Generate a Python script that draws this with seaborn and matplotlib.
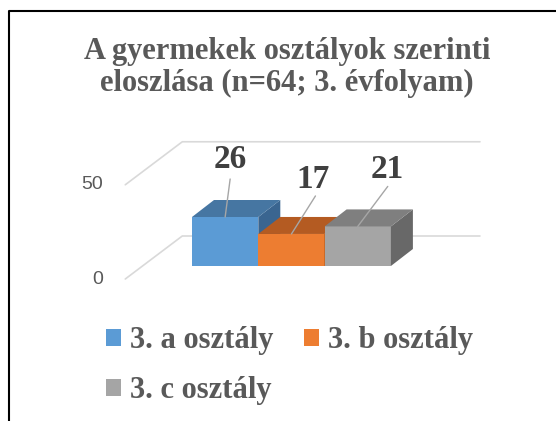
import matplotlib
matplotlib.use('Agg')
import numpy as np
import matplotlib.pyplot as plt
import seaborn as sns
from matplotlib.patches import Polygon, Patch
from matplotlib.lines import Line2D

# data
classes = ['3. a osztály', '3. b osztály', '3. c osztály']
counts = [26, 17, 21]
y_ticks = [0, 50]
title = 'A gyermekek osztályok szerinti\neloszlása (n=64; 3. évfolyam)'

front_colors = ['#5B9BD5', '#ED7D31', '#A5A5A5']
top_colors = ['#4676A2', '#B45B22', '#7F7F7F']
side_colors = ['#3A6590', '#9A4E1C', '#686868']
text_color = '#595959'

W, H = 556, 421
sns.set_theme(style='white')
plt.rcParams['font.family'] = ['Liberation Serif', 'DejaVu Serif']

fig = plt.figure(figsize=(W / 100, H / 100), dpi=100)
ax = fig.add_axes([0, 0, 1, 1])
sns.barplot(x=classes, y=counts, hue=classes, palette=front_colors, width=1.0,
            saturation=1, errorbar=None, legend=False, linewidth=0, ax=ax)

# scale: one category = 66.3 px, one unit = 1.885 px, value 0 at 155 px from bottom
px_x, px_y = 66.3, 49 / 26
ax.set_xlim(-0.5 - 192 / px_x, -0.5 + (W - 192) / px_x)
ax.set_ylim(-155 / px_y, (H - 155) / px_y)
ax.axis('off')


def shifted(x, y, dx, dy):
    p = ax.transData.transform((x, y)) + np.array([dx, dy])
    return ax.transData.inverted().transform(p)


back = (22, 17)      # depth of the boxes in pixels
wall = (40, 30)      # back wall
floor = (-17, -13)   # front edge of the floor
x_left, x_right = -1.25, 3.24

# gridlines on side wall and back wall
for v in y_ticks:
    pts = [shifted(x_left, v, *floor), shifted(x_left, v, *wall), shifted(x_right, v, *wall)]
    ax.add_line(Line2D([p[0] for p in pts], [p[1] for p in pts], color='#D9D9D9', lw=1.2, zorder=1))
    lx, ly = shifted(x_left, v, floor[0] - 22, floor[1])
    ax.text(lx, ly, str(v), ha='right', va='center', fontsize=14, color=text_color,
            family=['Liberation Sans', 'DejaVu Sans'])

# 3d faces
for i, bar in enumerate(ax.patches):
    x0, w, h = bar.get_x(), bar.get_width(), bar.get_height()
    bar.set_zorder(3 + i)
    top = [(x0, h), (x0 + w, h), shifted(x0 + w, h, *back), shifted(x0, h, *back)]
    side = [(x0 + w, 0), (x0 + w, h), shifted(x0 + w, h, *back), shifted(x0 + w, 0, *back)]
    ax.add_patch(Polygon(side, closed=True, facecolor=side_colors[i], edgecolor='none', zorder=3 + i))
    ax.add_patch(Polygon(top, closed=True, facecolor=top_colors[i], edgecolor='none', zorder=3 + i))

# data labels with leader lines
label_offsets = [(5, 57), (22, 54), (30, 57)]
line_offsets = [(5, 38), (24, 38), (30, 40)]
for i, bar in enumerate(ax.patches[:len(counts)]):
    cx = bar.get_x() + bar.get_width() / 2
    h = bar.get_height()
    tx, ty = shifted(cx, h, *label_offsets[i])
    lx, ly = shifted(cx, h, *line_offsets[i])
    ax.add_line(Line2D([cx, lx], [h, ly], color='#A6A6A6', lw=1.0, zorder=10))
    ax.text(tx, ty, str(counts[i]), ha='center', va='center', fontsize=24,
            fontweight='bold', color='#404040', zorder=11)

fig.text(287 / W, 1 - 37 / H, title, ha='center', va='top', fontsize=22,
         fontweight='bold', color=text_color, linespacing=1.12)

# legend filled row by row: a, b in the first row, c below
handles = [Patch(facecolor=c, edgecolor='none', label=l) for c, l in zip(front_colors, classes)]
order = [0, 2, 1]
fig.legend(handles=[handles[k] for k in order], ncol=2, loc='upper left',
           bbox_to_anchor=(91 / W, 1 - 311 / H),
           frameon=False, borderpad=0, prop=dict(family='Liberation Serif', weight='bold', size=22),
           labelcolor=text_color, handlelength=0.48, handleheight=0.48, handletextpad=0.3,
           columnspacing=1.0, labelspacing=0.68)

fig.add_artist(Line2D([9 / W, 9 / W, 1], [0, 1 - 11 / H, 1 - 11 / H], transform=fig.transFigure,
                      color='black', lw=1.5))

fig.savefig('out.png', dpi=100)
